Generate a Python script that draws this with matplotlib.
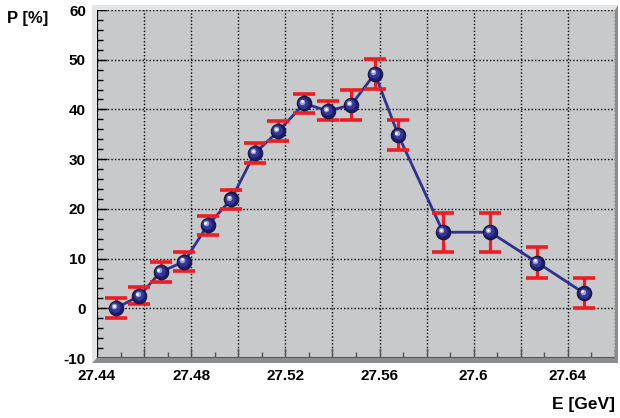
import numpy as np
import matplotlib.pyplot as plt
from matplotlib.patches import Polygon
from matplotlib.transforms import offset_copy
from matplotlib.ticker import MultipleLocator

plt.rcParams['font.family'] = ['Liberation Sans', 'DejaVu Sans']
plt.rcParams['font.weight'] = 'bold'

# Polarisation vs beam energy
energy = [27.448, 27.458, 27.467, 27.477, 27.487, 27.497, 27.507, 27.517, 27.528,
          27.538, 27.548, 27.558, 27.568, 27.587, 27.607, 27.627, 27.647]
pol = [0.0, 2.5, 7.3, 9.4, 16.7, 21.9, 31.2, 35.6, 41.2,
       39.7, 40.9, 47.2, 34.8, 15.3, 15.3, 9.2, 3.0]
pol_err = [2.0, 1.7, 2.0, 1.9, 1.9, 1.9, 2.0, 2.0, 2.0,
           1.9, 3.0, 3.0, 3.0, 3.9, 3.9, 3.1, 3.0]

x_labels = ['27.44', '27.48', '27.52', '27.56', '27.6', '27.64']

fig = plt.figure(figsize=(6.2, 4.18), dpi=100)
W, H = 620, 418

def fx(px):
    return px / W

def fy(py):
    return 1 - py / H

# bevelled frame around the pad
l, r, t, b = 92, 618, 5, 363
il, ir, it, ib = 97, 615, 10, 358
light = Polygon([(fx(l), fy(b)), (fx(l), fy(t)), (fx(r), fy(t)),
                 (fx(ir), fy(it)), (fx(il), fy(it)), (fx(il), fy(ib))],
                closed=True, transform=fig.transFigure, facecolor='#e4e5e7',
                edgecolor='none', zorder=0)
dark = Polygon([(fx(l), fy(b)), (fx(r), fy(b)), (fx(r), fy(t)),
                (fx(ir), fy(it)), (fx(ir), fy(ib)), (fx(il), fy(ib))],
               closed=True, transform=fig.transFigure, facecolor='#8c8d90',
               edgecolor='none', zorder=0)
fig.patches.extend([light, dark])

ax = fig.add_axes([fx(il), fy(ib), fx(ir - il), (ib - it) / H])
ax.set_facecolor('#c8c9cb')

# grid
ax.xaxis.set_major_locator(MultipleLocator(0.02))
ax.xaxis.set_minor_locator(MultipleLocator(0.01))
ax.yaxis.set_major_locator(MultipleLocator(10))
ax.yaxis.set_minor_locator(MultipleLocator(2))
ax.set_xlim(27.44, 27.66)
ax.set_ylim(-10, 60)
ax.grid(True, which='major', color='black', linestyle=(0, (1, 1.5)), linewidth=1.0)
ax.set_axisbelow(True)

ax.tick_params(axis='both', which='major', direction='in', length=7, width=1,
               color='black', labelsize=11, pad=8)
ax.tick_params(axis='both', which='minor', direction='in', length=4, width=1)
ax.tick_params(axis='x', which='both', color='#555555')

# only every second x gridline gets a label
ax.xaxis.set_ticklabels([])
for lab in x_labels:
    ax.text(float(lab), -0.033, lab, transform=ax.get_xaxis_transform(),
            ha='center', va='top', fontsize=11, fontweight='bold')
ax.yaxis.set_major_formatter(plt.FuncFormatter(lambda v, p: f'{int(round(v))}'))

for side in ['top', 'right']:
    ax.spines[side].set_visible(False)
ax.spines['left'].set_linewidth(1.5)
ax.spines['bottom'].set_linewidth(1.5)
ax.spines['bottom'].set_color('#555555')

# connecting line and error bars
ax.plot(energy, pol, color='#2e3192', linewidth=2, zorder=3)
ax.errorbar(energy, pol, yerr=pol_err, fmt='none', ecolor='#ee1c25',
            elinewidth=2.3, capsize=8, capthick=2.6, zorder=4)

# shaded spheres
ax.plot(energy, pol, 'o', markersize=10.5, color='#1c1d66',
        markeredgecolor='#111133', markeredgewidth=0.7, zorder=5)
tr1 = offset_copy(ax.transData, fig=fig, x=-0.6, y=0.6, units='points')
ax.plot(energy, pol, 'o', markersize=7.5, color='#34379a',
        markeredgewidth=0, transform=tr1, zorder=6)
tr2 = offset_copy(ax.transData, fig=fig, x=-1.3, y=1.3, units='points')
ax.plot(energy, pol, 'o', markersize=4, color='#9a9dde',
        markeredgewidth=0, transform=tr2, zorder=7)
tr3 = offset_copy(ax.transData, fig=fig, x=-1.6, y=1.6, units='points')
ax.plot(energy, pol, 'o', markersize=2, color='#ffffff',
        markeredgewidth=0, transform=tr3, zorder=8)

fig.text(fx(7), fy(19), 'P [%]', ha='left', va='center', fontsize=12, fontweight='bold')
fig.text(fx(615), fy(405), 'E [GeV]', ha='right', va='center', fontsize=12.5, fontweight='bold')

fig.savefig('out.png', dpi=100)
